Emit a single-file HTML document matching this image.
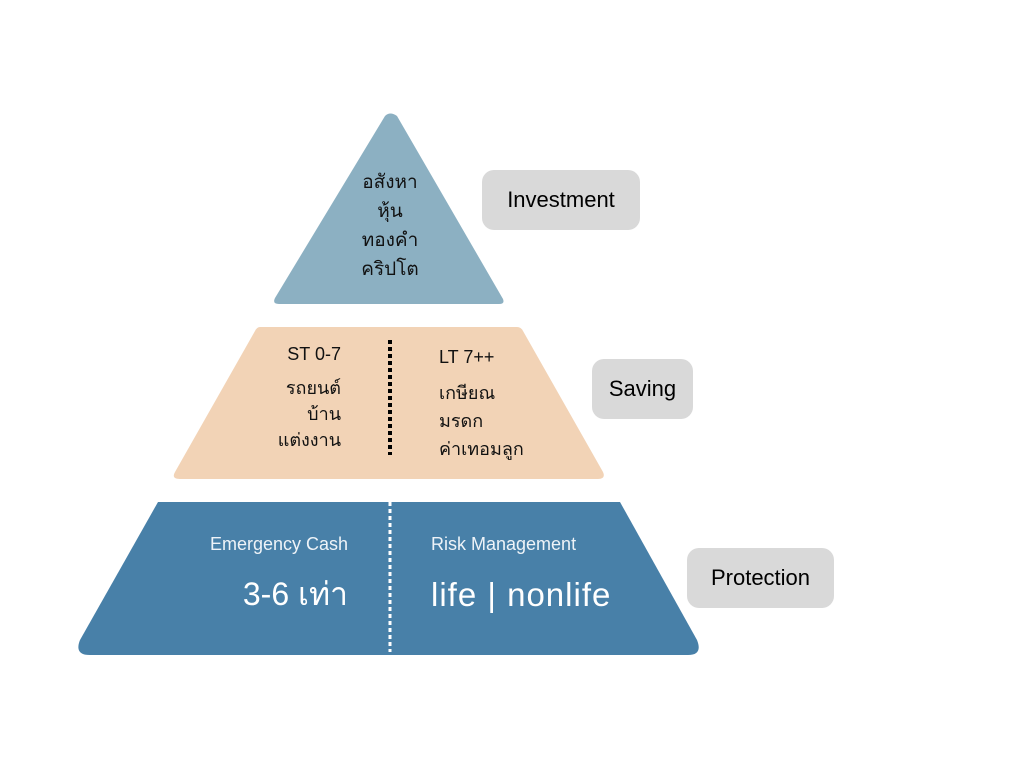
<!DOCTYPE html>
<html><head><meta charset="utf-8"><style>
body{margin:0;width:1024px;height:768px;background:#fff;overflow:hidden;font-family:"Liberation Sans",sans-serif;}
svg{position:absolute;left:0;top:0}
.t{position:absolute;white-space:nowrap;line-height:1}
.lbl{position:absolute;background:#d9d9d9;border-radius:12px;font-size:22px;color:#000;display:flex;align-items:center;justify-content:center}
</style></head><body>
<svg width="1024" height="768">
<path d="M385,116 Q390,111 397,116 L503,299 Q505,304 499,304 L279,304 Q272,304 275,298 Z" fill="#8cb0c2"/>
<path d="M260,327 L517,327 Q521,327 523,331 L603,472 Q606,479 598,479 L180,479 Q171,479 175,472 L255,331 Q257,327 260,327 Z" fill="#f2d3b6"/>
<path d="M158,502 L620,502 L697,640 Q703,655 688,655 L90,655 Q74,655 80,640 Z" fill="#4880a8"/>
<line x1="390" y1="340" x2="390" y2="455" stroke="#000" stroke-width="4" stroke-dasharray="4,3"/>
<line x1="390" y1="502" x2="390" y2="652" stroke="#fff" stroke-width="3" stroke-dasharray="4,3"/>
</svg>
<div class="t" style="left:355px;top:168px;width:70px;text-align:center;font-size:19px;line-height:29px;color:#111">อสังหา<br>หุ้น<br>ทองคำ<br>คริปโต</div>
<div class="t" style="left:270px;top:345px;width:71px;text-align:right;font-size:18px;color:#111">ST 0-7</div>
<div class="t" style="left:250px;top:375px;width:91px;text-align:right;font-size:18px;line-height:26px;color:#111">รถยนต์<br>บ้าน<br>แต่งงาน</div>
<div class="t" style="left:439px;top:348px;font-size:18px;color:#111">LT 7++</div>
<div class="t" style="left:439px;top:379px;font-size:18px;line-height:28px;color:#111">เกษียณ<br>มรดก<br>ค่าเทอมลูก</div>
<div class="t" style="left:180px;top:535px;width:168px;text-align:right;font-size:18px;color:#eef3f8">Emergency Cash</div>
<div class="t" style="left:160px;top:578px;width:188px;text-align:right;font-size:32px;color:#fff">3-6 เท่า</div>
<div class="t" style="left:431px;top:535px;font-size:18px;color:#eef3f8">Risk Management</div>
<div class="t" style="left:431px;top:578px;font-size:33px;letter-spacing:1px;color:#fff">life | nonlife</div>
<div class="lbl" style="left:482px;top:170px;width:158px;height:60px">Investment</div>
<div class="lbl" style="left:592px;top:359px;width:101px;height:60px">Saving</div>
<div class="lbl" style="left:687px;top:548px;width:147px;height:60px">Protection</div>
</body></html>
